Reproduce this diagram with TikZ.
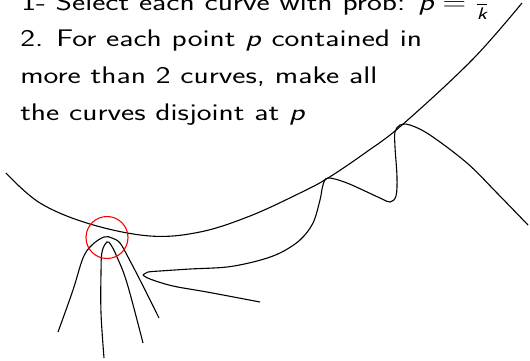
\documentclass[tikz,border=0pt]{standalone}
\usepackage{amsmath}
\newcommand{\sv}[1]{\textsf{\slshape #1}}
\begin{document}
\begin{tikzpicture}[x=1pt,y=-1pt,
  txt/.style={anchor=base west,inner sep=0pt,xscale=1.31,font=\fontsize{24}{35}\selectfont\sffamily},
  crv/.style={line width=1.1pt,black},
  redring/.style={line width=1.1pt,red}]
\useasboundingbox (0,0) rectangle (530,360);
\node[txt] (l1) at (21,10.5) {1- Select each curve with prob: $\sv{p} = \frac{\textsf{1}}{\sv{k}}$};
\node[txt] (l2) at (20,46.7) {2. For each point \sv{p} contained in};
\node[txt] (l3) at (20,83) {more than 2 curves, make all};
\node[txt] (l4) at (20,120) {the curves disjoint at \sv{p}};
% big curve
\draw[crv] plot[smooth,tension=0.6] coordinates {(6,173) (40,203) (90,224) (150,236) (200,232) (250,216) (300,193) (328,178) (365,153) (402,125) (472,60) (522,3)};
% outer arch
\draw[crv] plot[smooth,tension=0.6] coordinates {(58,332) (73,290) (83,258) (92,245) (104,237) (112,238) (120,243) (128,257) (140,280) (159,318)};
% inner arch
\draw[crv] plot[smooth,tension=0.6] coordinates {(104,358) (101,313) (101,273) (102,252) (107,242) (111,245) (117,257) (127,283) (143,343)};
% lower branch
\draw[crv] plot[smooth,tension=0.6] coordinates {(143,275) (150,279) (173,286) (207,292) (260,302)};
% upper branch with touches
\draw[crv] plot[smooth,tension=0.55] coordinates {(143,275) (148,272) (160,271) (190,269) (227,267) (257,261) (280,253) (300,240) (313,223) (320,200) (323,185) (328,178) (347,183) (380,198) (390,202) (396,196) (397,177) (395,147) (395,132) (400,125) (410,125) (430,135) (467,163) (497,193) (528,225)};
\node[draw=none,circle,minimum size=42pt] (mk) at (107,237.5) {};
\draw[redring] (mk.center) circle[radius=21];
\end{tikzpicture}
\end{document}
